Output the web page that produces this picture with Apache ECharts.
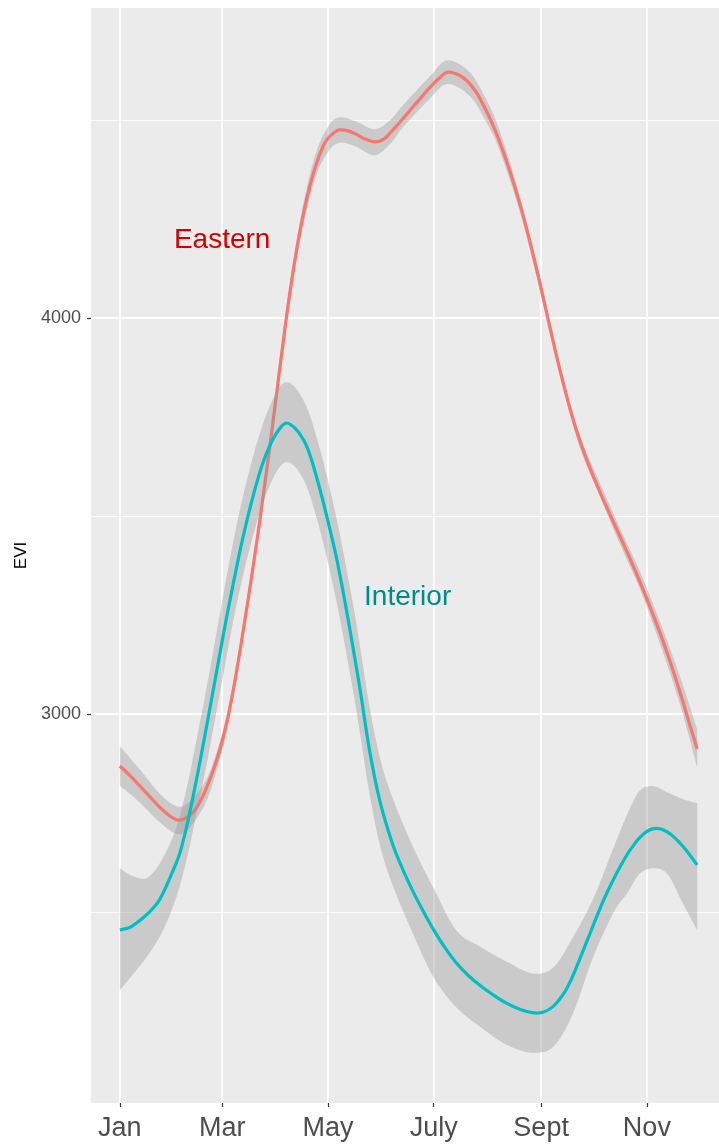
<!DOCTYPE html>
<html>
<head>
<meta charset="utf-8">
<script src="https://cdn.jsdelivr.net/npm/echarts@6/dist/echarts.min.js"></script>
<style>
html,body{margin:0;padding:0;background:#fff;}
#chart{width:719px;height:1144px;}
</style>
</head>
<body>
<div id="chart"></div>
<script>
// ---- data (x = day of year, y = EVI) ----
const monthLabels = ['Jan', 'Mar', 'May', 'July', 'Sept', 'Nov'];
const monthDays = [1, 60, 121, 182, 244, 305];
const yTickValues = [3000, 4000];
const yMinorValues = [2500, 3500, 4500];

const eastDays = [1, 7, 12, 18, 24, 30, 34, 38, 43, 47, 51, 55, 59, 63, 67, 71, 77, 82, 87, 92, 97, 101, 105, 109, 112, 116, 120, 125, 128, 133, 137, 142, 148, 153, 157, 161, 164, 170, 175, 180, 185, 190, 196, 201, 206, 209, 213, 217, 220, 226, 232, 238, 243, 249, 255, 261, 266, 272, 278, 284, 290, 295, 301, 307, 313, 318, 324, 329, 334];
const eastFit  = [2869, 2844, 2821, 2793, 2765, 2742, 2733, 2735, 2751, 2777, 2814, 2860, 2915, 2985, 3075, 3179, 3347, 3497, 3658, 3829, 4000, 4120, 4222, 4305, 4356, 4410, 4448, 4470, 4475, 4472, 4465, 4453, 4445, 4451, 4468, 4487, 4502, 4533, 4558, 4583, 4605, 4621, 4615, 4600, 4574, 4552, 4518, 4479, 4446, 4371, 4284, 4185, 4094, 3978, 3866, 3766, 3695, 3623, 3560, 3501, 3444, 3395, 3334, 3269, 3200, 3138, 3057, 2984, 2912];

const eastBandDays = [1, 12, 24, 34, 41, 50, 56, 63, 71, 82, 92, 97, 104, 109, 115, 122, 128, 137, 148, 157, 164, 180, 190, 203, 213, 220, 232, 245, 255, 266, 278, 290, 301, 313, 324, 334];
const eastLow  = [2819, 2779, 2727, 2697, 2712, 2772, 2845, 2965, 3161, 3479, 3816, 3978, 4172, 4277, 4369, 4425, 4443, 4433, 4411, 4440, 4480, 4555, 4591, 4560, 4490, 4424, 4264, 4039, 3851, 3677, 3549, 3424, 3316, 3172, 3026, 2866];
const eastHigh = [2919, 2863, 2799, 2767, 2778, 2828, 2893, 3005, 3197, 3515, 3856, 4022, 4222, 4333, 4429, 4489, 4507, 4497, 4477, 4500, 4536, 4611, 4651, 4620, 4546, 4474, 4304, 4071, 3881, 3707, 3583, 3464, 3360, 3228, 3096, 2962];

const intDays = [1, 7, 12, 18, 23, 27, 31, 35, 38, 41, 45, 48, 52, 55, 59, 63, 69, 73, 78, 83, 88, 93, 97, 102, 107, 111, 116, 121, 126, 131, 136, 140, 145, 151, 158, 164, 170, 176, 182, 189, 195, 202, 209, 216, 224, 232, 239, 245, 251, 257, 262, 268, 274, 280, 286, 290, 294, 298, 301, 305, 309, 313, 317, 321, 326, 330, 334];
const intFit  = [2455, 2462, 2477, 2500, 2525, 2558, 2598, 2641, 2688, 2745, 2830, 2898, 2992, 3064, 3160, 3254, 3385, 3465, 3553, 3628, 3683, 3720, 3735, 3722, 3692, 3650, 3574, 3488, 3394, 3280, 3155, 3050, 2909, 2780, 2676, 2610, 2553, 2502, 2455, 2407, 2372, 2340, 2314, 2292, 2270, 2254, 2246, 2247, 2262, 2294, 2336, 2400, 2466, 2530, 2585, 2618, 2648, 2673, 2689, 2704, 2711, 2710, 2702, 2688, 2665, 2643, 2619];

const intBandDays = [1, 8, 17, 26, 34, 40, 44, 48, 52, 59, 68, 78, 88, 97, 107, 116, 126, 135, 140, 145, 151, 158, 170, 182, 195, 209, 224, 239, 251, 262, 274, 286, 294, 301, 309, 317, 326, 334];
const intLow  = [2303, 2340, 2390, 2455, 2543, 2642, 2724, 2807, 2895, 3060, 3270, 3453, 3583, 3636, 3592, 3472, 3284, 3072, 2938, 2799, 2670, 2572, 2446, 2335, 2260, 2210, 2165, 2145, 2160, 2240, 2386, 2500, 2550, 2598, 2611, 2595, 2520, 2455];
const intHigh = [2611, 2592, 2587, 2638, 2719, 2822, 2908, 2997, 3090, 3260, 3470, 3653, 3783, 3838, 3792, 3676, 3494, 3290, 3158, 3019, 2890, 2792, 2666, 2560, 2454, 2412, 2375, 2345, 2360, 2434, 2533, 2665, 2750, 2807, 2818, 2802, 2785, 2775];

const labelTexts = ['Eastern', 'Interior'];
const labelX = [60, 167];
const labelY = [4197, 3295];

// ---- build ----
const FONT = '"Liberation Sans", Arial, sans-serif';
const pairs = (xs, ys) => xs.map((x, i) => [x, ys[i]]);
const ribbonColor = 'rgba(153,153,153,0.4)';
const labelColors = ['#D40000', '#008B8B'];

// Catmull-Rom through pixel points given by the axes
function splineSegs(pts, start) {
  let d = start + pts[0][0].toFixed(2) + ',' + pts[0][1].toFixed(2);
  for (let i = 0; i < pts.length - 1; i++) {
    const p0 = pts[Math.max(i - 1, 0)], p1 = pts[i], p2 = pts[i + 1], p3 = pts[Math.min(i + 2, pts.length - 1)];
    const c1x = p1[0] + (p2[0] - p0[0]) / 6, c1y = p1[1] + (p2[1] - p0[1]) / 6;
    const c2x = p2[0] - (p3[0] - p1[0]) / 6, c2y = p2[1] - (p3[1] - p1[1]) / 6;
    d += 'C' + [c1x, c1y, c2x, c2y, p2[0], p2[1]].map(v => v.toFixed(2)).join(',');
  }
  return d;
}

function ribbonSeries(days, lo, hi) {
  return {
    type: 'custom', silent: true, clip: true,
    data: [[days[0], lo[0]]],
    renderItem: (params, api) => {
      const up = days.map((d, i) => api.coord([d, hi[i]]));
      const dn = days.map((d, i) => api.coord([d, lo[i]])).reverse();
      const path = splineSegs(up, 'M') + splineSegs(dn, 'L') + 'Z';
      return { type: 'path', shape: { pathData: path }, style: { fill: ribbonColor }, silent: true };
    }
  };
}

function fitSeries(days, vals, color) {
  return {
    type: 'custom', silent: true, clip: true,
    data: [[days[0], vals[0]]],
    renderItem: (params, api) => {
      const pts = days.map((d, i) => api.coord([d, vals[i]]));
      return { type: 'path', shape: { pathData: splineSegs(pts, 'M') }, style: { fill: null, stroke: color, lineWidth: 3.2, lineJoin: 'round', lineCap: 'butt' }, silent: true };
    }
  };
}

const gridLines = []
  .concat(monthDays.map(d => ({ xAxis: d, lineStyle: { color: '#ffffff', width: 1.8, type: 'solid' } })))
  .concat(yTickValues.map(v => ({ yAxis: v, lineStyle: { color: '#ffffff', width: 1.8, type: 'solid' } })))
  .concat(yMinorValues.map(v => ({ yAxis: v, lineStyle: { color: '#ffffff', width: 0.9, type: 'solid' } })));

const chart = echarts.init(document.getElementById('chart'), null, { renderer: 'canvas' });
chart.setOption({
  animation: false,
  backgroundColor: '#ffffff',
  textStyle: { fontFamily: FONT },
  grid: {
    left: 91, top: 8, right: 0, height: 1095,
    show: true, backgroundColor: '#EBEBEB', borderWidth: 0, containLabel: false
  },
  xAxis: {
    type: 'value', min: -15.65, max: 346.6,
    axisLine: { show: true, onZero: false, lineStyle: { color: 'rgba(0,0,0,0)' } },
    splitLine: { show: false },
    axisTick: { show: true, length: 4, lineStyle: { color: '#333333', width: 1.2 }, customValues: monthDays },
    axisLabel: {
      customValues: monthDays, margin: 12, color: '#4D4D4D', fontSize: 27, fontFamily: FONT,
      formatter: v => monthLabels[monthDays.indexOf(Math.round(v))] || ''
    }
  },
  yAxis: {
    type: 'value', min: 2018, max: 4783,
    name: 'EVI', nameLocation: 'middle', nameRotate: 90, nameGap: 58,
    nameTextStyle: { color: '#000000', fontSize: 17, fontFamily: FONT },
    axisLine: { show: true, onZero: false, lineStyle: { color: 'rgba(0,0,0,0)' } },
    splitLine: { show: false },
    axisTick: { show: true, length: 4, lineStyle: { color: '#333333', width: 1.2 }, customValues: yTickValues },
    axisLabel: {
      customValues: yTickValues, margin: 10, color: '#4D4D4D', fontSize: 18, fontFamily: FONT,
      formatter: v => String(v)
    }
  },
  series: [
    {
      type: 'line', data: [], silent: true,
      markLine: { silent: true, symbol: ['none', 'none'], z: 1, label: { show: false }, animation: false, data: gridLines }
    },
    ribbonSeries(eastBandDays, eastLow, eastHigh),
    fitSeries(eastDays, eastFit, '#F8766D'),
    ribbonSeries(intBandDays, intLow, intHigh),
    fitSeries(intDays, intFit, '#00BFC4'),
    {
      type: 'custom', silent: true,
      data: labelTexts.map((t, i) => [labelX[i], labelY[i], i]),
      renderItem: (params, api) => {
        const i = api.value(2);
        const c = api.coord([api.value(0), api.value(1)]);
        return {
          type: 'text', x: c[0], y: c[1], silent: true,
          style: { text: labelTexts[i], fill: labelColors[i], fontSize: 28, fontFamily: FONT, align: 'center', verticalAlign: 'middle' }
        };
      }
    }
  ]
});
</script>
</body>
</html>
